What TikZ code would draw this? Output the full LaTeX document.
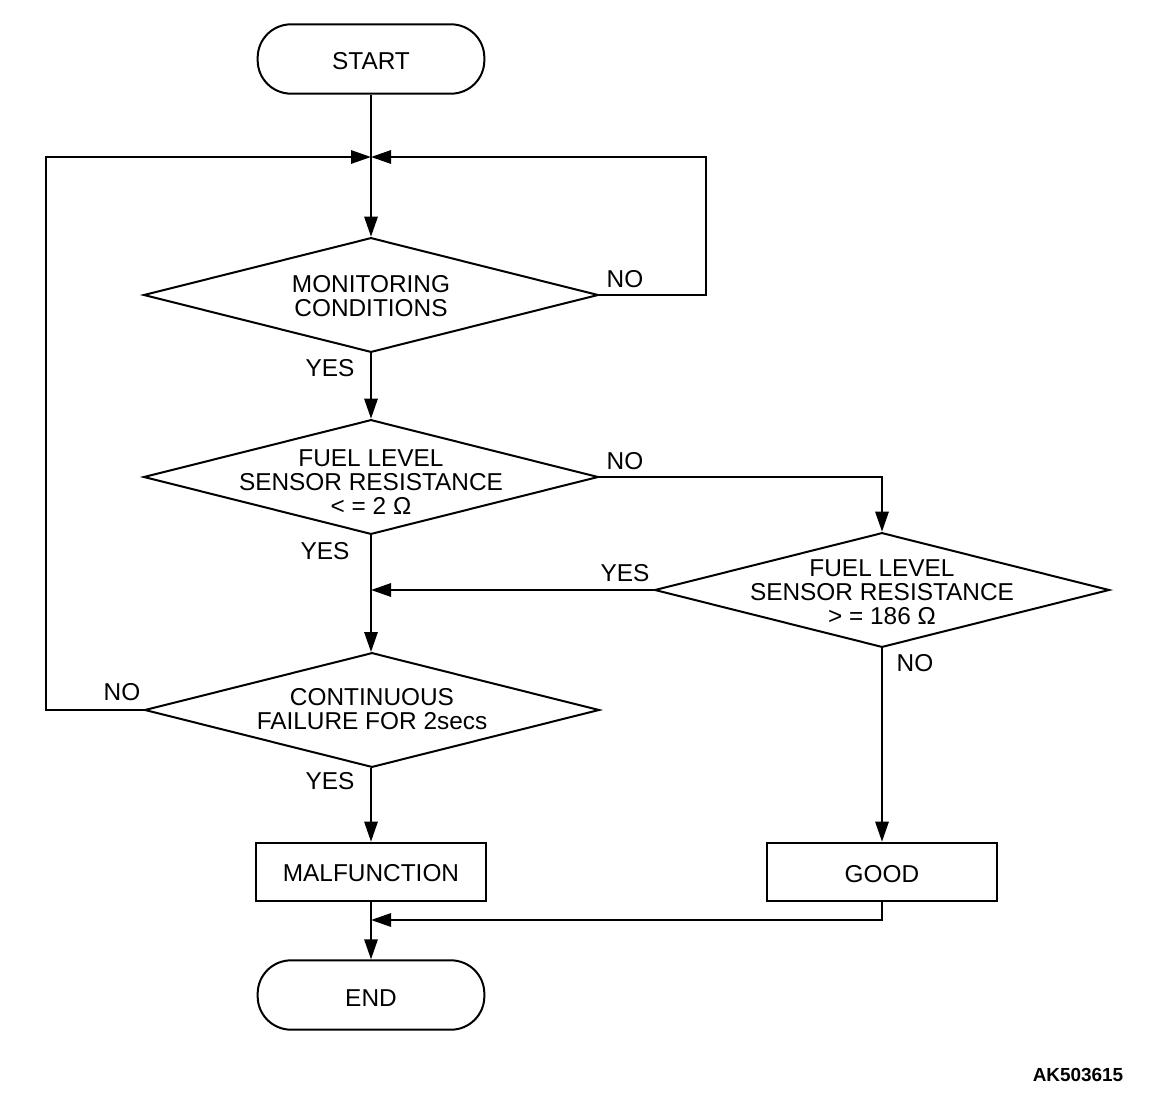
\documentclass[tikz,border=0pt]{standalone}
\usepackage{fontspec}
\setmainfont{Liberation Sans}
\usetikzlibrary{shapes.geometric,arrows.meta}
\begin{document}
\begin{tikzpicture}[x=0.75pt,y=-0.75pt,
  every node/.style={font=\fontsize{18.3}{17.8}\selectfont},
  term/.style={draw,line width=1.5pt,rectangle,rounded corners=25pt,minimum width=170pt,minimum height=52pt,inner sep=0pt},
  box/.style={draw,line width=1.5pt,rectangle,minimum width=172pt,minimum height=44pt,inner sep=0pt},
  dec/.style={draw,line width=1.5pt,diamond,minimum width=341pt,minimum height=86pt,inner sep=0pt},
  txt/.style={align=center,inner sep=0pt},
  lab/.style={inner sep=0pt},
  conn/.style={line width=1.5pt},
  arr/.style={line width=1.5pt,-{Triangle[length=15pt,width=10pt]}}]
\useasboundingbox (0,0) rectangle (1152,1102);
\node[term] (start) at (371,59) {};
\node[txt] (starttxt) at (371,61) {START};
\node[dec] (d1) at (371,295) {};
\node[txt] (d1txt) at (371,296) {MONITORING\\CONDITIONS};
\node[dec] (d2) at (371,477) {};
\node[txt] (d2txt) at (371,482) {FUEL LEVEL\\SENSOR RESISTANCE\\< = 2 Ω};
\node[dec] (d3) at (882,590) {};
\node[txt] (d3txt) at (882,592) {FUEL LEVEL\\SENSOR RESISTANCE\\> = 186 Ω};
\node[dec] (d4) at (372,710) {};
\node[txt] (d4txt) at (372,709) {CONTINUOUS\\FAILURE FOR 2secs};
\node[box] (mal) at (371,872) {};
\node[txt] (maltxt) at (371,873) {MALFUNCTION};
\node[box] (good) at (882,872) {};
\node[txt] (goodtxt) at (882,874) {GOOD};
\node[term] (end) at (371,995) {};
\node[txt] (endtxt) at (371,998) {END};
\coordinate (m1) at (371,157);
\coordinate (cr) at (706,157);
\coordinate (cl) at (46,157);
\coordinate (j2) at (371,590);
\coordinate (j3) at (371,920);
\draw[conn] (start.south) -- (m1);
\draw[arr] (m1) -- (d1.north);
\draw[arr] (d1.east) -| (cr) -- (m1);
\draw[arr] (d4.west) -| (cl) -- (m1);
\draw[arr] (d1.south) -- (d2.north);
\draw[arr] (d2.south) -- (371,652);
\draw[arr] (d2.east) -| (d3.north);
\draw[arr] (d3.west) -- (j2);
\draw[arr] (d4.south -| mal.north) -- (mal.north);
\draw[arr] (d3.south) -- (good.north);
\draw[arr] (good.south) |- (j3);
\draw[arr] (mal.south) -- (end.north);
\node[lab] (no1) at (625,279) {NO};
\node[lab] (yes1) at (330,368) {YES};
\node[lab] (no2) at (625,461) {NO};
\node[lab] (yes2) at (325,551) {YES};
\node[lab] (yes3) at (625,573) {YES};
\node[lab] (no3) at (915,663) {NO};
\node[lab] (no4) at (122,692) {NO};
\node[lab] (yes4) at (330,781) {YES};
\node[lab,font=\fontsize{14.2}{14.2}\selectfont\bfseries] (code) at (1078,1075) {AK503615};
\end{tikzpicture}
\end{document}
